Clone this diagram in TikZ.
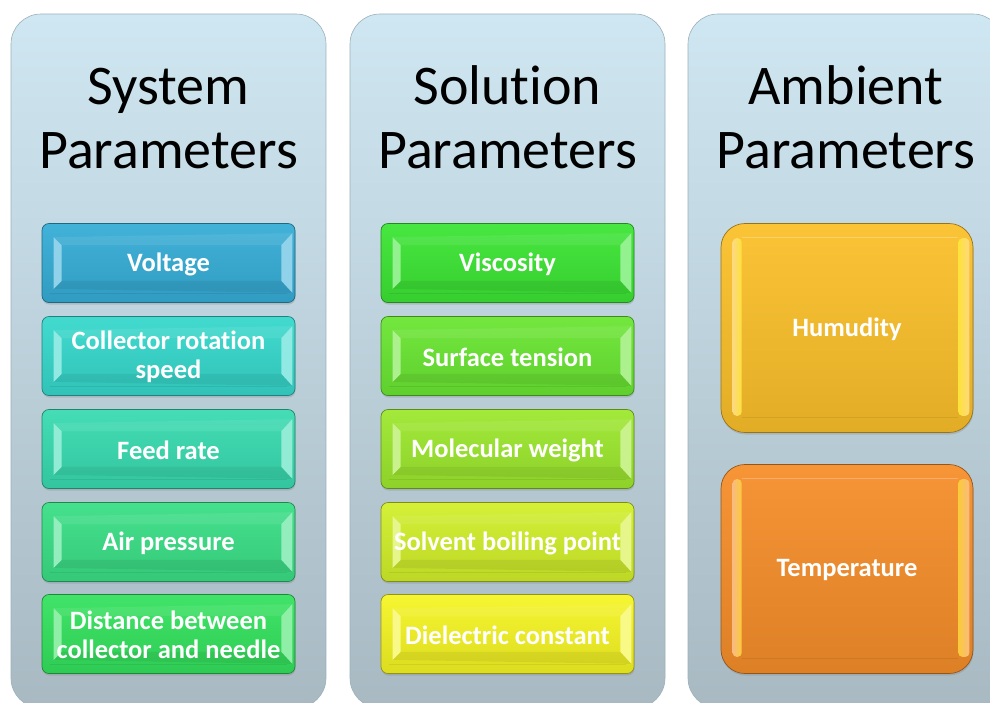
\documentclass[tikz,border=0pt]{standalone}
\usepackage{fontspec}
\setmainfont{Carlito}[Ligatures=NoCommon]
\usetikzlibrary{calc,shadows}

% panel and box colours
\definecolor{panelTop}{HTML}{CFE7F2}
\definecolor{panelBot}{HTML}{A8B9C2}
\definecolor{panelEdge}{HTML}{9DB0B9}
\definecolor{cVolt}{HTML}{36ADD6}
\definecolor{cColl}{HTML}{36D8CC}
\definecolor{cFeed}{HTML}{38DBB0}
\definecolor{cAir}{HTML}{3ADF86}
\definecolor{cDist}{HTML}{34E25E}
\definecolor{cVisc}{HTML}{3CE534}
\definecolor{cSurf}{HTML}{6AE632}
\definecolor{cMol}{HTML}{9DE82E}
\definecolor{cSolv}{HTML}{D2EF2A}
\definecolor{cDiel}{HTML}{F5F524}
\definecolor{cHum}{HTML}{FBC02A}
\definecolor{cTemp}{HTML}{F68E2A}

\tikzset{
  panel/.style={rounded corners=30pt, top color=panelTop, bottom color=panelBot,
    draw=panelEdge, line width=0.6pt, minimum width=315pt, minimum height=694pt,
    inner sep=0pt},
  title/.style={font=\fontsize{56}{64}\selectfont, align=center, text=black,
    inner sep=0pt},
  boxtext/.style={align=center, text=white,
    font=\fontsize{26.5}{29}\selectfont\bfseries},
  pbox/.style={rounded corners=7pt, minimum width=253pt, minimum height=79pt,
    inner sep=0pt, boxtext,
    draw=#1!60!black, line width=0.7pt,
    top color=#1!94!white, bottom color=#1!90!black,
    drop shadow={opacity=0.3, shadow xshift=0.5pt, shadow yshift=-2pt}},
  abox/.style={rounded corners=24pt, minimum width=252pt, minimum height=209pt,
    inner sep=0pt, boxtext,
    draw=#1!60!black, line width=0.7pt,
    top color=#1!94!white, bottom color=#1!90!black,
    drop shadow={opacity=0.3, shadow xshift=0.5pt, shadow yshift=-2pt}},
}

% bevel facets of a small parameter box
\newcommand{\bevelfacets}[2]{%
  \fill[white, opacity=0.08]
    ($(#1.north west)+(12,14)$) -- ($(#1.north west)+(20,22)$) --
    ($(#1.north east)+(-14,22)$) -- ($(#1.north east)+(-3,10)$) -- cycle;
  \fill[#2!55!white]
    ($(#1.north west)+(12,14)$) -- ($(#1.north west)+(20,22)$) --
    ($(#1.south west)+(20,-22)$) -- ($(#1.south west)+(12,-14)$) -- cycle;
  \fill[#2!55!white]
    ($(#1.north east)+(-3,10)$) -- ($(#1.north east)+(-14,22)$) --
    ($(#1.south east)+(-14,-22)$) -- ($(#1.south east)+(-3,-10)$) -- cycle;
  \fill[black, opacity=0.06]
    ($(#1.south west)+(12,-14)$) -- ($(#1.south west)+(20,-22)$) --
    ($(#1.south east)+(-14,-22)$) -- ($(#1.south east)+(-3,-10)$) -- cycle;
  \draw[#2!70!black, opacity=0.3, line width=0.6pt]
    ($(#1.south west)+(8,-10)$) -- ($(#1.south east)+(-8,-10)$);
}

% highlight strips of a large parameter box
\newcommand{\ambientfacets}[2]{%
  \shade[left color=#2!60!white, right color=#2!55!yellow!85!white, rounded corners=4pt]
    ($(#1.north west)+(12,15)$) rectangle ($(#1.south west)+(21,-17)$);
  \shade[left color=#2!55!yellow!85!white, right color=#2!60!white, rounded corners=4pt]
    ($(#1.north east)+(-15,15)$) rectangle ($(#1.south east)+(-4,-17)$);
  \draw[#2!70!black, opacity=0.3, line width=0.6pt]
    ($(#1.south west)+(21,-16)$) -- ($(#1.south east)+(-15,-16)$);
  \draw[white, opacity=0.25, line width=0.6pt]
    ($(#1.north west)+(21,14)$) -- ($(#1.north east)+(-15,14)$);
}

\begin{document}
\begin{tikzpicture}[x=1pt, y=-1pt]
  \useasboundingbox (0,0) rectangle (990,702);
  \clip (0,0) rectangle (990,702);
  \fill[white] (0,0) rectangle (990,702);

  % three column panels
  \node[panel] (sysPanel) at (168.5,361) {};
  \node[panel] (solPanel) at (507.5,361) {};
  \node[panel] (ambPanel) at (845.5,361) {};

  % panel headings (base anchor sits on the last line)
  \node[title, anchor=base] (sysTitle) at (168.5,168) {System\\Parameters};
  \node[title, anchor=base] (solTitle) at (507.5,168) {Solution\\Parameters};
  \node[title, anchor=base] (ambTitle) at (846,168) {Ambient\\Parameters};

  % system parameters
  \node[pbox=cVolt] (volt) at (168.5,263) {};
  \bevelfacets{volt}{cVolt}
  \node[boxtext] (voltText) at ($(volt)+(0,1)$) {Voltage};
  \node[pbox=cColl] (coll) at (168.5,356) {};
  \bevelfacets{coll}{cColl}
  \node[boxtext] (collText) at ($(coll)+(0,1)$) {Collector rotation\\speed};
  \node[pbox=cFeed] (feed) at (168.5,449) {};
  \bevelfacets{feed}{cFeed}
  \node[boxtext] (feedText) at ($(feed)+(0,1)$) {Feed rate};
  \node[pbox=cAir] (air) at (168.5,542) {};
  \bevelfacets{air}{cAir}
  \node[boxtext] (airText) at ($(air)+(0,1)$) {Air pressure};
  \node[pbox=cDist] (dist) at (168.5,634) {};
  \bevelfacets{dist}{cDist}
  \node[boxtext] (distText) at ($(dist)+(0,1)$) {Distance between\\collector and needle};

  % solution parameters
  \node[pbox=cVisc] (visc) at (507.5,263) {};
  \bevelfacets{visc}{cVisc}
  \node[boxtext] (viscText) at ($(visc)+(0,1)$) {Viscosity};
  \node[pbox=cSurf] (surf) at (507.5,356) {};
  \bevelfacets{surf}{cSurf}
  \node[boxtext] (surfText) at ($(surf)+(0,1)$) {Surface tension};
  \node[pbox=cMol] (mol) at (507.5,449) {};
  \bevelfacets{mol}{cMol}
  \node[boxtext] (molText) at ($(mol)+(0,1)$) {Molecular weight};
  \node[pbox=cSolv] (solv) at (507.5,542) {};
  \bevelfacets{solv}{cSolv}
  \node[boxtext] (solvText) at ($(solv)+(0,1)$) {Solvent boiling point};
  \node[pbox=cDiel] (diel) at (507.5,634) {};
  \bevelfacets{diel}{cDiel}
  \node[boxtext] (dielText) at ($(diel)+(0,1)$) {Dielectric constant};

  % ambient parameters
  \node[abox=cHum] (hum) at (847,328) {};
  \ambientfacets{hum}{cHum}
  \node[boxtext] (humText) at ($(hum)+(0,1)$) {Humudity};
  \node[abox=cTemp] (temp) at (847,569) {};
  \ambientfacets{temp}{cTemp}
  \node[boxtext] (tempText) at ($(temp)+(0,1)$) {Temperature};
\end{tikzpicture}
\end{document}
